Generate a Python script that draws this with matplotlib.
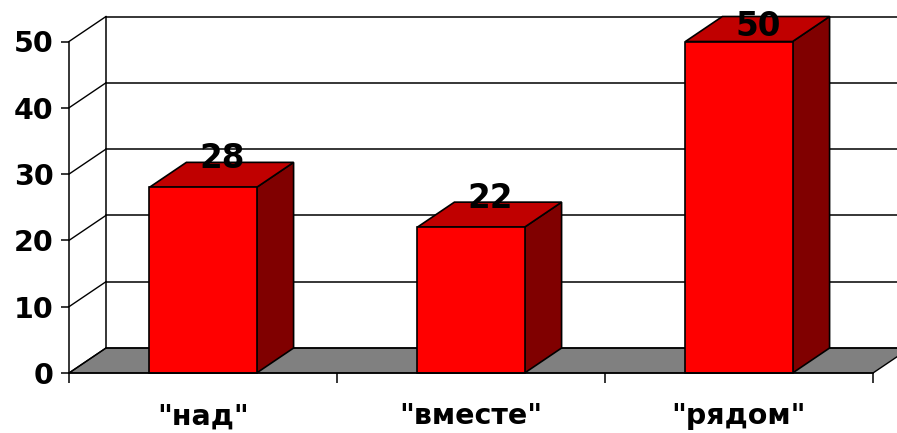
import matplotlib
matplotlib.use("Agg")
import matplotlib.pyplot as plt
from matplotlib.patches import Polygon

categories = ['"над"', '"вместе"', '"рядом"']
values = [28, 22, 50]
y_ticks = [0, 10, 20, 30, 40, 50]

# oblique offset of the back wall, in data units
depth_x = 0.138
depth_y = 3.77
bar_width = 0.4


def box(ax, x, height):
    left = x - bar_width / 2
    right = x + bar_width / 2
    front = [(left, 0), (right, 0), (right, height), (left, height)]
    top = [(left, height), (right, height),
           (right + depth_x, height + depth_y), (left + depth_x, height + depth_y)]
    side = [(right, 0), (right + depth_x, depth_y),
            (right + depth_x, height + depth_y), (right, height)]
    ax.add_patch(Polygon(side, fc="#800000", ec="black", lw=1.2, zorder=3, clip_on=False))
    ax.add_patch(Polygon(top, fc="#c00000", ec="black", lw=1.2, zorder=3, clip_on=False))
    ax.add_patch(Polygon(front, fc="#ff0000", ec="black", lw=1.2, zorder=4, clip_on=False))


fig = plt.figure(figsize=(8.97, 4.33), dpi=100)
ax = fig.add_axes([69 / 897, 60 / 433, 804 / 897, 331.5 / 433])
ax.set_xlim(0, 3)
ax.set_ylim(0, 50)

# floor
floor = [(0, 0), (3, 0), (3 + depth_x, depth_y), (depth_x, depth_y)]
ax.add_patch(Polygon(floor, fc="#808080", ec="black", lw=1.0, zorder=1, clip_on=False))

# back wall grid and the slanted lines on the left wall
for v in y_ticks:
    ax.plot([depth_x, 3.2], [v + depth_y, v + depth_y], color="black", lw=1.1,
            zorder=2, clip_on=False)
    ax.plot([0, depth_x], [v, v + depth_y], color="black", lw=1.0, zorder=2, clip_on=False)
ax.plot([depth_x, depth_x], [depth_y, 50 + depth_y], color="black", lw=1.1, zorder=2,
        clip_on=False)

for i, v in enumerate(values):
    box(ax, i + 0.5, v)
    # the label gets pushed down at the top of the chart
    ax.text(i + 0.5 + 0.07, min(v + 4.3, 52.3), str(v), ha="center", va="center",
            fontsize=23.5, fontweight="bold", color="black", zorder=5)

for s in ["top", "right"]:
    ax.spines[s].set_visible(False)
ax.patch.set_visible(False)
ax.spines["left"].set_linewidth(1.1)
ax.spines["bottom"].set_linewidth(1.1)
ax.spines["left"].set_zorder(6)
ax.spines["bottom"].set_zorder(6)

ax.set_yticks(y_ticks)
ax.set_xticks([0, 1, 2, 3])
ax.set_xticklabels([])
ax.set_xticks([0.5, 1.5, 2.5], categories, minor=True)
ax.tick_params(axis="y", length=6, width=1.1, labelsize=20.5, pad=5)
ax.tick_params(axis="x", which="major", length=7, width=1.1)
ax.tick_params(axis="x", which="minor", length=0, labelsize=20.5, pad=21)
for lab in ax.get_yticklabels() + ax.get_xticklabels(minor=True):
    lab.set_fontweight("bold")

fig.savefig("out.png", dpi=100, facecolor="white")
